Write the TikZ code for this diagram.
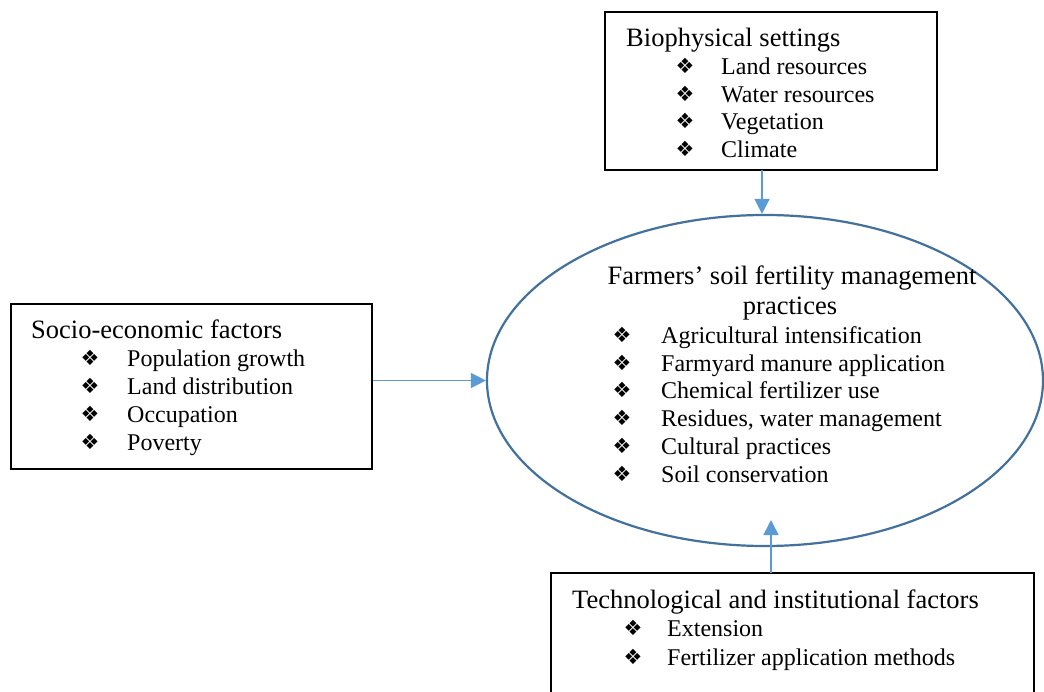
\documentclass[tikz,border=0pt]{standalone}
\usepackage{fontspec}
\setmainfont{Liberation Serif}
\newfontfamily\symfont{DejaVu Sans}
\usetikzlibrary{arrows.meta,shapes.geometric}
\definecolor{ellblue}{HTML}{41719C}
\definecolor{arrblue}{HTML}{5B9BD5}
\tikzset{
  box/.style={draw=black, line width=1.2pt, inner sep=0pt},
  hdr/.style={anchor=base west, inner sep=0pt, font=\fontsize{26.5}{30}\selectfont},
  hdrc/.style={anchor=base, inner sep=0pt, font=\fontsize{26.5}{30}\selectfont},
  itm/.style={anchor=base west, inner sep=0pt, font=\fontsize{24}{27}\selectfont},
  bul/.style={anchor=base, inner sep=0pt, font=\symfont\fontsize{21}{24}\selectfont},
  conn/.style={draw=arrblue, line width=1.5pt, -{Triangle[length=15pt,width=15pt]}},
  ell/.style={draw=ellblue, line width=2.2pt, ellipse, inner sep=0pt}
}
\begin{document}
\begin{tikzpicture}[x=1pt,y=-1pt]
\clip (0,0) rectangle (1044,692);
\fill[white] (0,0) rectangle (1044,692);

% boxes
\node[box, minimum width=332pt, minimum height=158pt] (bio) at (771,91) {};
\node[box, minimum width=361pt, minimum height=165pt] (socio) at (191.5,386.5) {};
\node[box, minimum width=483pt, minimum height=160pt] (tech) at (792.5,653) {};
\node[ell, minimum width=556pt, minimum height=331pt] (ell) at (765,380.5) {};

% Biophysical settings
\node[hdr] (bioH) at (626,47) {Biophysical settings};
\foreach \t [count=\i] in {Land resources,Water resources,Vegetation,Climate}{
  \node[bul] (bioB\i) at (685,{75+27.4*(\i-1)-1}) {❖};
  \node[itm] (bioT\i) at (721,{75+27.4*(\i-1)}) {\t};
}

% Socio-economic factors
\node[hdr] (socH) at (31,338.3) {Socio-economic factors};
\foreach \t [count=\i] in {Population growth,Land distribution,Occupation,Poverty}{
  \node[bul] (socB\i) at (90,{366.7+27.8*(\i-1)-1}) {❖};
  \node[itm] (socT\i) at (127,{366.7+27.8*(\i-1)}) {\t};
}

% Technological and institutional factors
\node[hdr] (tecH) at (572,608) {Technological and institutional factors};
\foreach \t [count=\i] in {Extension,Fertilizer application methods}{
  \node[bul] (tecB\i) at (633,{636.7+28.3*(\i-1)-1}) {❖};
  \node[itm] (tecT\i) at (667,{636.7+28.3*(\i-1)}) {\t};
}

% Ellipse contents
\node[hdrc] (ellH1) at (792,285) {Farmers’ soil fertility management};
\node[hdrc] (ellH2) at (790,315) {practices};
\foreach \t [count=\i] in {Agricultural intensification,Farmyard manure application,Chemical fertilizer use,{Residues, water management},Cultural practices,Soil conservation}{
  \node[bul] (ellB\i) at (622,{343.3+27.8*(\i-1)-1}) {❖};
  \node[itm] (ellT\i) at (661,{343.3+27.8*(\i-1)}) {\t};
}

% connectors
\coordinate (bioA) at (762,170);
\draw[conn] (bioA) -- (bioA |- ell.north);
\draw[conn] (socio.east |- ell.west) -- (ell.west);
\coordinate (techA) at (771,573);
\coordinate (techTip) at (771,520);
\draw[conn] (techA) -- (techTip);
\end{tikzpicture}
\end{document}
